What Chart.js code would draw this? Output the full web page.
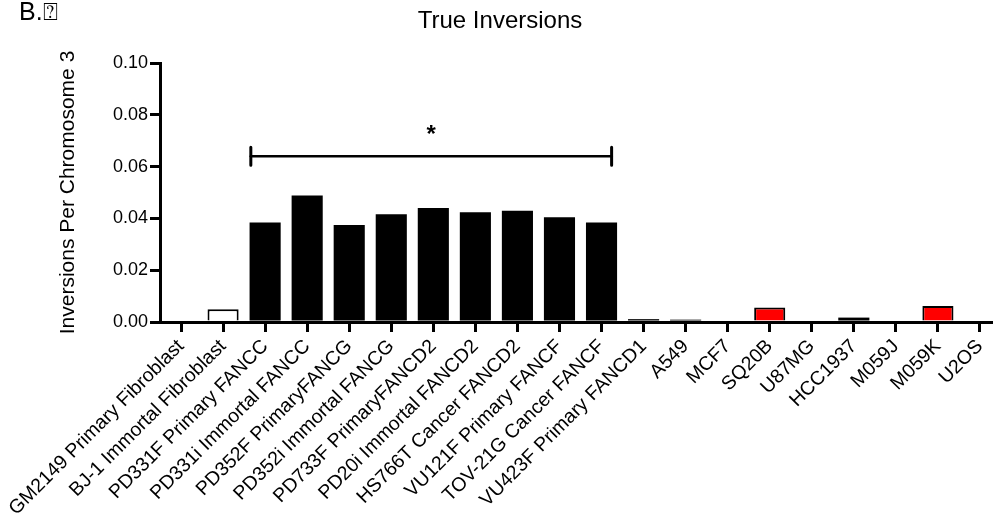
<!DOCTYPE html>
<html>
<head>
<meta charset="utf-8">
<script src="https://cdn.jsdelivr.net/npm/chart.js@4.4.1/dist/chart.umd.min.js"></script>
<style>
  html, body { margin: 0; padding: 0; overflow: hidden; background: #fff; }
  canvas { display: block; }
</style>
</head>
<body>
<canvas id="chart" width="1010" height="514"></canvas>
<script>
// Cell lines on the x axis
const categories = [
  'GM2149 Primary Fibroblast',
  'BJ-1 Immortal Fibroblast',
  'PD331F Primary FANCC',
  'PD331i Immortal FANCC',
  'PD352F PrimaryFANCG',
  'PD352i Immortal FANCG',
  'PD733F PrimaryFANCD2',
  'PD20i Immortal FANCD2',
  'HS766T Cancer FANCD2',
  'VU121F Primary FANCF',
  'TOV-21G Cancer FANCF',
  'VU423F Primary FANCD1',
  'A549',
  'MCF7',
  'SQ20B',
  'U87MG',
  'HCC1937',
  'M059J',
  'M059K',
  'U2OS'
];

// True inversions per chromosome 3
const inversions = [
  0, 0.0049, 0.0384, 0.0488, 0.0375, 0.0416, 0.0440, 0.0424, 0.0430, 0.0404,
  0.0384, 0.0011, 0.0009, 0, 0.0056, 0, 0.0017, 0, 0.0062, 0
];

// Y axis tick values
const yTicks = [0, 0.02, 0.04, 0.06, 0.08, 0.10];

// Lines drawn with a white or red fill instead of black
const whiteFilled = ['BJ-1 Immortal Fibroblast'];
const redFilled = ['SQ20B', 'M059K'];

// Significance bracket across the FA-deficient group
const bracketFrom = 'PD331F Primary FANCC';
const bracketTo = 'TOV-21G Cancer FANCF';
const bracketLevel = 0.064;
const bracketMark = '*';

const panelLabel = 'B.\u2370';
const chartTitle = 'True Inversions';
const yTitle = 'Inversions Per Chromosome 3';

const FONT = "'Liberation Sans', Arial, Helvetica, sans-serif";

const fills = categories.map(c =>
  whiteFilled.includes(c) ? '#ffffff' : redFilled.includes(c) ? '#ff0000' : '#000000');
// solid black bars need no separate outline
const outlines = fills.map(f => (f === '#000000' ? 0 : 2));

const annotations = {
  id: 'annotations',
  afterDraw(chart) {
    const ctx = chart.ctx;
    const x = chart.scales.x, y = chart.scales.y;
    ctx.save();
    ctx.fillStyle = '#000';
    ctx.textBaseline = 'alphabetic';

    // panel letter
    ctx.font = '25px ' + FONT;
    ctx.textAlign = 'left';
    ctx.fillText(panelLabel, 19, 20);

    // title
    ctx.font = '24px ' + FONT;
    ctx.textAlign = 'center';
    ctx.fillText(chartTitle, 500, 28);

    // bracket
    const i0 = categories.indexOf(bracketFrom);
    const i1 = categories.indexOf(bracketTo);
    const x0 = x.getPixelForValue(i0 - 0.34);
    const x1 = x.getPixelForValue(i1 + 0.24);
    const by = y.getPixelForValue(bracketLevel);
    ctx.strokeStyle = '#000';
    ctx.lineCap = 'round';
    ctx.lineWidth = 2.5;
    ctx.beginPath();
    ctx.moveTo(x0, by); ctx.lineTo(x1, by);
    ctx.stroke();
    ctx.lineWidth = 3;
    ctx.beginPath();
    ctx.moveTo(x0, by - 9); ctx.lineTo(x0, by + 9);
    ctx.moveTo(x1, by - 9); ctx.lineTo(x1, by + 9);
    ctx.stroke();

    ctx.font = 'bold 24px ' + FONT;
    ctx.textAlign = 'center';
    ctx.fillText(bracketMark, (x0 + x1) / 2, by - 14);
    ctx.restore();
  }
};

new Chart(document.getElementById('chart'), {
  type: 'bar',
  data: {
    labels: categories,
    datasets: [{
      data: inversions,
      backgroundColor: fills,
      borderColor: '#000',
      borderWidth: outlines,
      borderRadius: 0,
      borderSkipped: 'start',
      categoryPercentage: 1,
      barPercentage: 0.74
    }]
  },
  options: {
    responsive: false,
    animation: false,
    devicePixelRatio: 1,
    layout: { padding: { top: 63, right: 9, left: 0, bottom: 0 } },
    plugins: {
      legend: { display: false },
      title: { display: false },
      tooltip: { enabled: false }
    },
    scales: {
      x: {
        type: 'category',
        offset: true,
        grid: {
          offset: false,
          display: true,
          drawOnChartArea: false,
          drawTicks: true,
          tickLength: 10,
          lineWidth: 3,
          color: '#000'
        },
        border: { display: true, width: 3, color: '#000' },
        ticks: {
          autoSkip: false,
          maxRotation: 45,
          minRotation: 45,
          padding: 3,
          color: '#000',
          font: { family: FONT, size: 19.5 }
        },
        afterFit(scale) {
          scale.height = 192;
          scale.paddingLeft = 0;
          scale.paddingRight = 0;
        }
      },
      y: {
        min: 0,
        max: 0.1,
        afterBuildTicks(scale) {
          scale.ticks = yTicks.map(v => ({ value: v }));
        },
        grid: {
          display: true,
          drawOnChartArea: false,
          drawTicks: true,
          tickLength: 10,
          lineWidth: 3,
          color: '#000'
        },
        border: { display: true, width: 3, color: '#000' },
        ticks: {
          padding: 2,
          color: '#000',
          font: { family: FONT, size: 18 },
          callback: v => Number(v).toFixed(2)
        },
        title: {
          display: true,
          text: yTitle,
          color: '#000',
          font: { family: FONT, size: 21 },
          padding: { top: 56, bottom: 0 }
        },
        afterFit(scale) {
          scale.width = 160;
        }
      }
    }
  },
  plugins: [annotations]
});
</script>
</body>
</html>
